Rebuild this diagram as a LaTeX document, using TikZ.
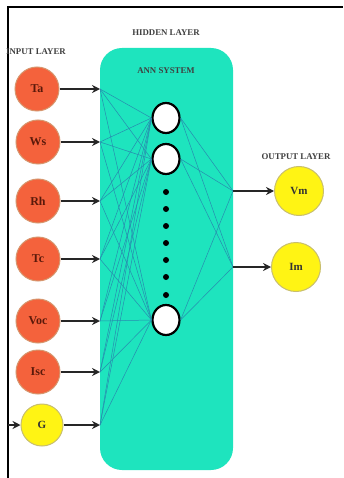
\documentclass[tikz,border=0pt]{standalone}
\usepackage{fontspec}
\setmainfont{Liberation Serif}
\usetikzlibrary{arrows.meta,shapes.geometric}
\definecolor{boxfill}{RGB}{30,228,190}
\definecolor{inred}{RGB}{244,98,60}
\definecolor{inredborder}{RGB}{214,150,110}
\definecolor{yel}{RGB}{255,244,20}
\definecolor{yelborder}{RGB}{200,190,110}
\definecolor{wire}{RGB}{40,140,175}
\definecolor{lbl}{RGB}{90,25,10}
\tikzset{
  inneuron/.style={circle, fill=inred, draw=inredborder, line width=1pt, minimum size=44pt, inner sep=0pt, font=\fontsize{12}{12}\selectfont\bfseries, text=lbl},
  yneuron/.style={circle, fill=yel, draw=yelborder, line width=1pt, minimum size=49pt, inner sep=0pt, font=\fontsize{11}{11}\selectfont\bfseries, text=black!80},
  hneuron/.style={ellipse, fill=white, draw=black, line width=2.2pt, minimum width=27pt, minimum height=30pt, inner sep=0pt},
  arr/.style={-{Stealth[length=8pt,width=8pt]}, line width=1.8pt, black!85},
  wires/.style={wire, line width=0.5pt},
  title/.style={font=\fontsize{8.8}{8.8}\selectfont\bfseries, text=black!75},
  dot/.style={circle, fill=black, inner sep=0pt, minimum size=6pt}
}
\begin{document}
\begin{tikzpicture}[x=1pt,y=-1pt]
\useasboundingbox (0,0) rectangle (343,478);
% frame
\draw[line width=1.4pt] (8,478) -- (8,7) -- (343,7);
% hidden box
\node[fill=boxfill, rounded corners=22pt, minimum width=133pt, minimum height=422pt, inner sep=0pt] (box) at (166.5,259) {};
\node[title] (ht) at (166,33) {HIDDEN LAYER};
\node[title, anchor=west, inner sep=0pt] (it) at (6,52) {INPUT LAYER};
\node[title] (at) at (166,71) {ANN SYSTEM};
\node[title] (ot) at (296,157) {OUTPUT LAYER};
% inputs
\node[inneuron] (Ta) at (37,89) {Ta};
\node[inneuron] (Ws) at (38,142) {Ws};
\node[inneuron] (Rh) at (38,201) {Rh};
\node[inneuron] (Tc) at (38,259) {Tc};
\node[inneuron] (Voc) at (38,321) {Voc};
\node[inneuron] (Isc) at (38,372) {Isc};
\node[yneuron, minimum size=42pt] (G) at (42,425) {G};
% entry coordinates on box
\foreach \n/\y in {Ta/89,Ws/142,Rh/201,Tc/259,Voc/321,Isc/372,G/425}{
  \coordinate (e\n) at (100,\y);
}
\coordinate (eVm) at (233,191);
\coordinate (eIm) at (233,267);
% hidden
\node[hneuron] (h1) at (166,118) {};
\node[hneuron] (h2) at (166,159) {};
\node[hneuron] (h3) at (166,320) {};
\foreach \y [count=\i] in {192,209,226,243,260,277,295}{
  \node[dot] (d\i) at (166,\y) {};
}
% wires
\foreach \n in {Ta,Ws,Rh,Tc,Voc,Isc,G}{
  \foreach \h in {h1,h2,h3}{
    \draw[wires] (e\n) -- (\h.west);
  }
}
\foreach \h in {h1,h2,h3}{
  \draw[wires] (\h.east) -- (eVm);
  \draw[wires] (\h.east) -- (eIm);
}
% outputs
\node[yneuron] (Vm) at (299,191) {Vm};
\node[yneuron] (Im) at (296,267) {Im};
% arrows
\foreach \n in {Ta,Ws,Rh,Tc,Voc,Isc,G}{
  \draw[arr] (\n.east) -- (e\n);
}
\coordinate (gin) at (8,425);
\draw[arr] (gin) -- (G.west);
\draw[arr] (eVm) -- (Vm.west);
\draw[arr] (eIm) -- (Im.west);
\end{tikzpicture}
\end{document}
